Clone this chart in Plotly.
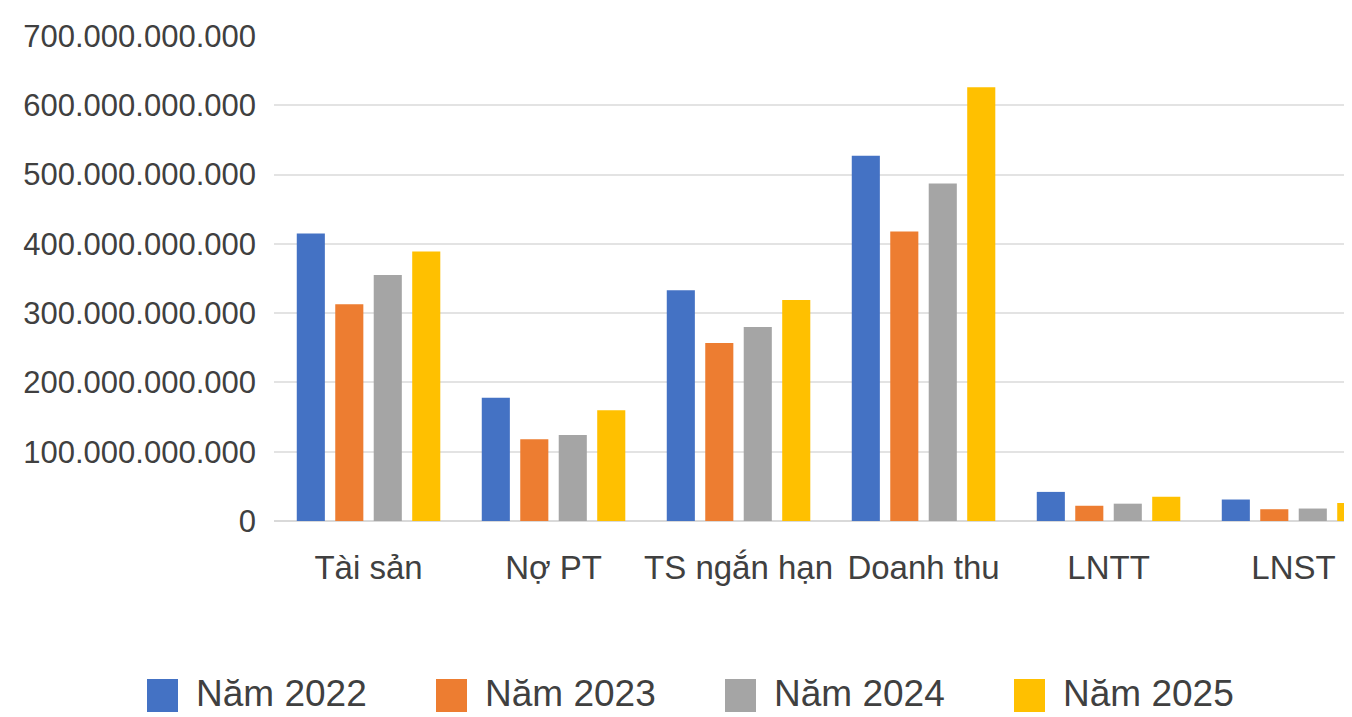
import plotly.graph_objects as go

categories = ["Tài sản", "Nợ PT", "TS ngắn hạn", "Doanh thu", "LNTT", "LNST"]
series_names = ["Năm 2022", "Năm 2023", "Năm 2024", "Năm 2025"]
nam_2022 = [415e9, 178e9, 333e9, 527e9, 42e9, 31e9]
nam_2023 = [313e9, 118e9, 257e9, 418e9, 22e9, 17e9]
nam_2024 = [355e9, 124e9, 280e9, 487e9, 25e9, 18e9]
nam_2025 = [389e9, 160e9, 319e9, 626e9, 35e9, 26e9]
colors = ["#4472C4", "#ED7D31", "#A5A5A5", "#FFC000"]
tick_vals = [0, 100e9, 200e9, 300e9, 400e9, 500e9, 600e9, 700e9]
tick_text = ["0", "100.000.000.000", "200.000.000.000", "300.000.000.000",
             "400.000.000.000", "500.000.000.000", "600.000.000.000", "700.000.000.000"]

# the page body has an 8px margin; size the figure so it fills the window exactly
OFF = 8
W, H = 1352 - OFF, 717 - OFF
ML, MR, MT, MB = 274 - OFF, 0, 36 - OFF, 196
PW, PH = W - ML - MR, H - MT - MB
FONT = "Liberation Sans, Arial, sans-serif"
TEXT_COLOR = "#404040"

fig = go.Figure()
for name, vals, col in zip(series_names, [nam_2022, nam_2023, nam_2024, nam_2025], colors):
    fig.add_trace(go.Bar(name=name, x=categories, y=vals, marker_color=col,
                         marker_line_width=0, showlegend=False))

# custom legend (large swatches like the original); positions given in window pixels
def px_x(p):
    return (p - OFF - ML) / PW

def px_y(p):
    return (H - MB - (p - OFF)) / PH

leg_start, leg_pitch = 147, 289
sw_w, sw_top, sw_bot = 31, 679, 712
shapes, annotations = [], []
for i, (name, col) in enumerate(zip(series_names, colors)):
    x0 = leg_start + i * leg_pitch
    shapes.append(dict(type="rect", xref="paper", yref="paper",
                       x0=px_x(x0), x1=px_x(x0 + sw_w), y0=px_y(sw_bot), y1=px_y(sw_top),
                       fillcolor=col, line_width=0, layer="above"))
    annotations.append(dict(xref="paper", yref="paper", x=px_x(x0 + sw_w + 16),
                            y=px_y(693), xanchor="left", yanchor="middle",
                            text=name, showarrow=False,
                            font=dict(size=37, color=TEXT_COLOR, family=FONT)))

fig.update_layout(
    width=W, height=H,
    margin=dict(l=ML, r=MR, t=MT, b=MB, autoexpand=False),
    paper_bgcolor="white", plot_bgcolor="white",
    barmode="group", bargap=0.168, bargroupgap=0.27,
    font=dict(family=FONT, color=TEXT_COLOR),
    showlegend=False,
    shapes=shapes, annotations=annotations,
)
fig.update_xaxes(
    range=[-0.511, 5.316], showgrid=False, showline=False, ticks="",
    tickfont=dict(size=33, color=TEXT_COLOR), ticklabelstandoff=24, automargin=False,
)
fig.update_yaxes(
    range=[0, 700e9], tickvals=tick_vals, ticktext=tick_text,
    showgrid=True, gridcolor="#e3e3e3", gridwidth=2,
    zeroline=True, zerolinecolor="#d9d9d9", zerolinewidth=2,
    showline=False, ticks="",
    tickfont=dict(size=31, color=TEXT_COLOR), ticklabelstandoff=17, automargin=False,
)

fig.write_html("out.html")
